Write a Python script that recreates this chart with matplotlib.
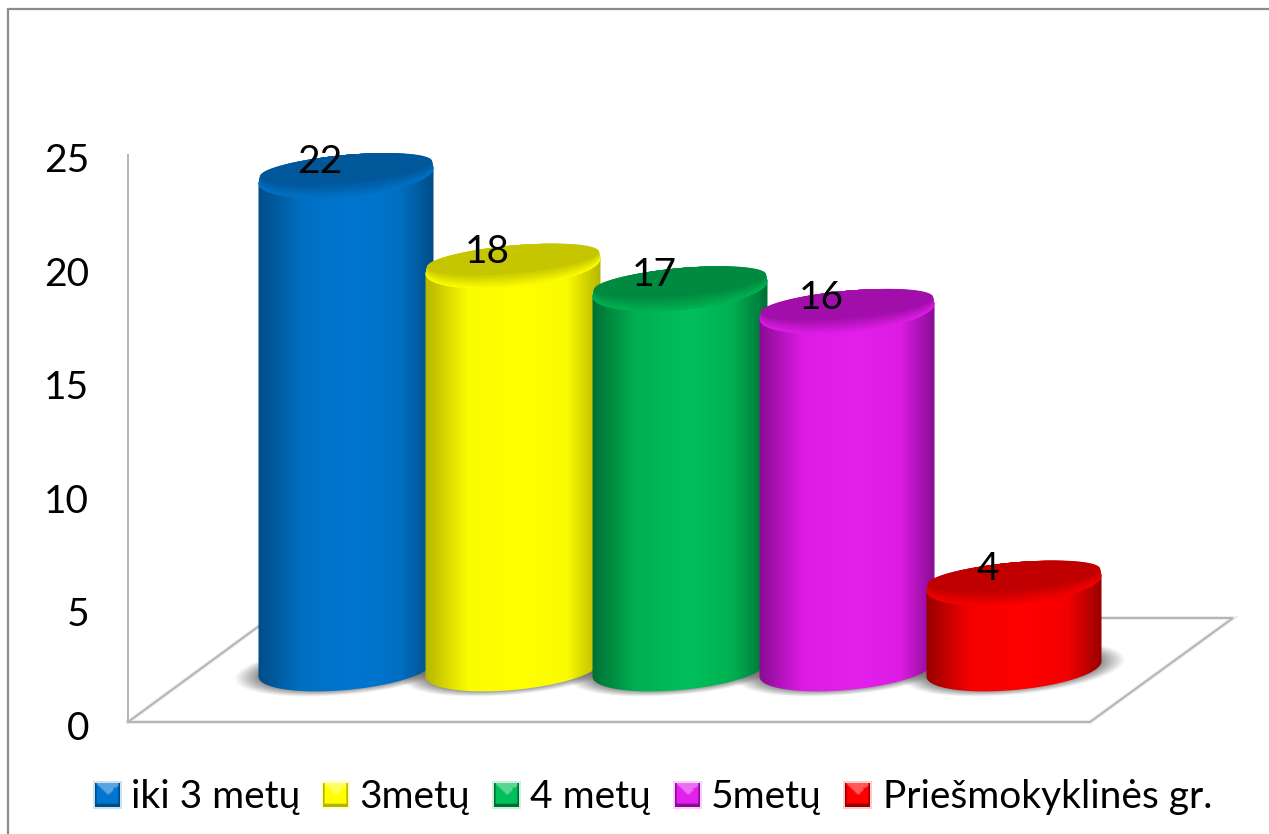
import numpy as np
import matplotlib
matplotlib.use('Agg')
import matplotlib.pyplot as plt
from matplotlib.colors import LinearSegmentedColormap, to_rgb
from matplotlib.patches import PathPatch, Rectangle
from matplotlib.path import Path
from matplotlib.transforms import ScaledTranslation

plt.rcParams['font.family'] = ['Lato', 'DejaVu Sans']

W, H = 1269, 834

categories = ['iki 3 metų', '3metų', '4 metų', '5metų', 'Priešmokyklinės gr.']
values = [22, 18, 17, 16, 4]
yticks = [0, 5, 10, 15, 20, 25]

edge_colors = ['#004c86', '#b4b400', '#006e34', '#860c90', '#960000']
mid_colors = ['#0070c4', '#fcfc00', '#00b050', '#dc1ce4', '#f40000']
bright_colors = ['#0076d0', '#ffff00', '#00c05c', '#e420ec', '#ff0000']
top_colors = ['#00589a', '#c6c600', '#008a40', '#a20eaa', '#c00000']

legend_swatch_x = [95, 323, 494, 675, 845]
legend_text_x = [131, 359, 530, 711, 883]


def px_axes(fig, left, top, right, bottom, **kw):
    # axes placed by pixel box, y counted from the top of the image
    return fig.add_axes([left / W, 1 - bottom / H, (right - left) / W, (bottom - top) / H], **kw)


def ell(cx, cy, a, b, t, skew=np.tan(np.radians(5))):
    # sheared ellipse, so the sides stay vertical. sizes in pixels, returned in data units of bar_ax
    x = a * np.cos(t)
    y = b * np.sin(t) + x * skew
    return np.column_stack([cx + x / PX_X, cy + y / PX_Y])


def poly(pts, **kw):
    codes = [Path.MOVETO] + [Path.LINETO] * (len(pts) - 2) + [Path.CLOSEPOLY]
    return PathPatch(Path(pts, codes), **kw)


fig = plt.figure(figsize=(W / 100, H / 100), dpi=100, facecolor='white')

# frame, floor and legend live on a plain pixel layer
bg = fig.add_axes([0, 0, 1, 1], zorder=0)
bg.set_xlim(0, W)
bg.set_ylim(H, 0)
bg.axis('off')
bg.plot([8, 8, W], [H, 9, 9], color='#8c8c8c', lw=1.6, solid_joinstyle='miter')
floor_x = [128, 1090, 1233, 270, 128]
floor_y = [722, 722, 618, 618, 722]
bg.plot(floor_x, floor_y, color='#ececec', lw=3, solid_joinstyle='miter')
bg.plot(floor_x, floor_y, color='#b4b4b4', lw=1.4, solid_joinstyle='miter')

# value axis
ax = px_axes(fig, 128, 155, 1090, 722, zorder=1)
ax.patch.set_visible(False)
ax.set_ylim(0, 25)
ax.set_yticks(yticks)
ax.set_xticks([])
for s in ['top', 'right', 'bottom']:
    ax.spines[s].set_visible(False)
ax.spines['left'].set_color('#b4b4b4')
ax.spines['left'].set_linewidth(1.4)
ax.tick_params(axis='y', length=0, pad=28, labelsize=28, labelcolor='black')
shift = ScaledTranslation(0, -3 / 100, fig.dpi_scale_trans)
for lab in ax.get_yticklabels():
    lab.set_transform(lab.get_transform() + shift)

# bars sit on the floor, so they have their own box shifted back from the axis
STEP = 167
PX_Y = 22.64
PX_X = STEP
base_y = 674
base_lift = 0.22
# box runs one category wider each side and 3 units under the base for shadows
bar_left = 346 - 1.5 * STEP
bar_ax = px_axes(fig, bar_left, base_y - 25 * PX_Y, bar_left + 7 * STEP, base_y + 3 * PX_Y, zorder=2)
bar_ax.patch.set_visible(False)
bar_ax.axis('off')
bar_ax.set_autoscale_on(False)
bar_ax.set_xlim(-1.5, 5.5)
bar_ax.set_ylim(-3, 25)

A, B = 87.5, 21
t_low = np.linspace(np.pi, 2 * np.pi, 80)
t_up = np.linspace(0, np.pi, 80)
t_all = np.linspace(0, 2 * np.pi, 160)

# soft shadows under the bases
for i in range(len(values)):
    xx = np.linspace(i - 0.85, i + 0.85, 200)
    yy = np.linspace(-2.2, 2.2, 120)
    X, Y = np.meshgrid(xx, yy)
    dx = (X - i) * PX_X
    dy = (Y - base_lift) * PX_Y
    u = dx / 112
    v = (dy - dx * np.tan(np.radians(5))) / 26
    r = np.sqrt(u ** 2 + v ** 2)
    rgba = np.zeros(r.shape + (4,))
    rgba[..., :3] = 0.3
    rgba[..., 3] = np.clip((1 - r) / 0.25, 0, 1) * 0.7
    bar_ax.imshow(rgba, extent=[xx[0], xx[-1], yy[0], yy[-1]], origin='lower',
                  aspect='auto', zorder=1, interpolation='bilinear')

for i, val in enumerate(values):
    z = 3 + i
    cmap = LinearSegmentedColormap.from_list('c%d' % i, [
        (0, edge_colors[i]), (0.25, mid_colors[i]), (0.55, bright_colors[i]),
        (0.8, mid_colors[i]), (1, edge_colors[i])])

    pts = np.vstack([ell(i, base_lift, A, B, t_low), ell(i, val, A, B, t_up)])
    pts = np.vstack([pts, pts[0]])
    body = poly(pts, facecolor='none', edgecolor='none', zorder=z)
    bar_ax.add_patch(body)
    im = bar_ax.imshow(np.linspace(0, 1, 256)[None, :], cmap=cmap, vmin=0, vmax=1,
                       extent=[i - 0.53, i + 0.53, -2, 25], origin='lower', aspect='auto',
                       zorder=z, interpolation='bilinear')
    im.set_clip_path(body)

    # top face, the bevel shows along the lower rim only
    n = 8
    for k in range(n):
        f = k / (n - 1)
        rim = np.array(to_rgb(mid_colors[i]))
        top = np.array(to_rgb(top_colors[i]))
        col = rim * (1 - f) + top * f
        face = ell(i, val + k / PX_Y, A - 0.2 * k, B - k, t_all)
        bar_ax.add_patch(poly(face, facecolor=col, edgecolor='none', zorder=z + 0.1 + 0.01 * k))

    bar_ax.annotate(str(val), (i, val), xytext=(-26, 14), textcoords='offset pixels',
                    ha='center', va='center', fontsize=28, color='black', zorder=20)

# legend
for i, name in enumerate(categories):
    g = np.linspace(-1, 1, 15)
    X, Y = np.meshgrid(g, g)
    main = np.array(to_rgb(bright_colors[i]))
    img = np.ones((15, 15, 3)) * main
    img[(Y < -0.1) & (np.abs(X) < -Y)] = main * 0.65 + 0.35
    img[(np.abs(X) > 0.9) | (Y > 0.85)] = np.array(to_rgb(edge_colors[i]))
    sx = legend_swatch_x[i]
    bg.add_patch(Rectangle((sx - 2, 781), 29, 28, facecolor=main, alpha=0.2, edgecolor='none', zorder=2))
    bg.imshow(img, extent=[sx, sx + 25, 807, 783], aspect='auto', zorder=3, interpolation='bilinear')
    bg.text(legend_text_x[i], 808, name, fontsize=28, color='black', ha='left', va='baseline')
bg.set_xlim(0, W)
bg.set_ylim(H, 0)

fig.savefig('out.png', dpi=100)
